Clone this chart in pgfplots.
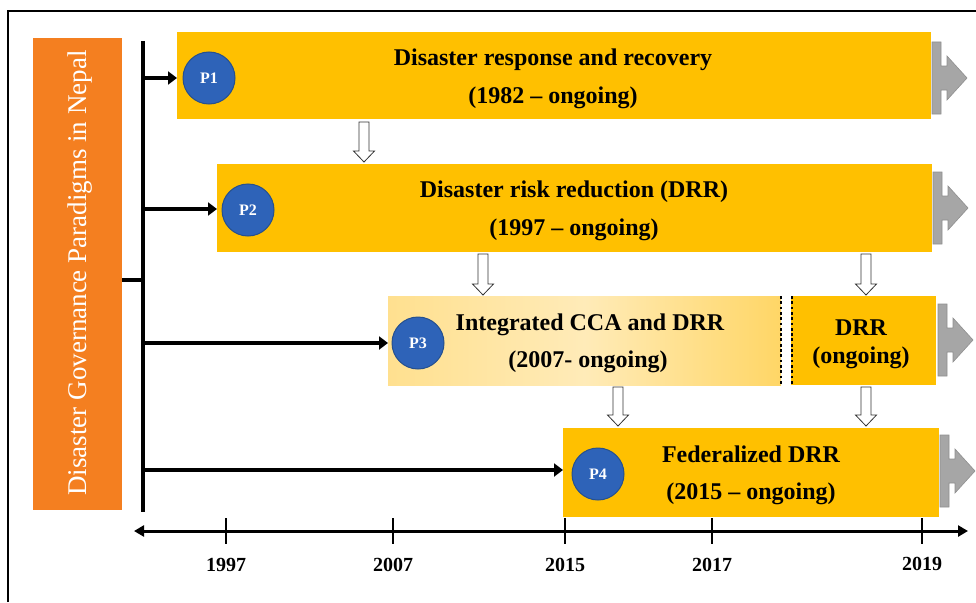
\documentclass[border=0pt]{standalone}
\usepackage{pgfplots}
\pgfplotsset{compat=1.18}
\usepackage{fontspec}
\setmainfont{Liberation Serif}
\usetikzlibrary{arrows.meta}
\definecolor{gold}{HTML}{FFC000}
\definecolor{orangeB}{HTML}{F47F20}
\definecolor{blueC}{HTML}{2E63B8}
\definecolor{blueD}{HTML}{25508F}
\definecolor{grayA}{HTML}{A6A6A6}
\definecolor{grayB}{HTML}{8F8F8F}
\definecolor{p3L}{HTML}{FFE08F}
\definecolor{p3M}{HTML}{FFEBB8}
\definecolor{p3R}{HTML}{FFD666}
\newcommand{\tf}{\fontsize{24}{28}\selectfont\bfseries}
\newcommand{\yf}{\fontsize{20}{24}\selectfont\bfseries}
\newcommand{\pf}{\fontsize{16}{18}\selectfont\bfseries}
\begin{document}
\begin{tikzpicture}
\begin{axis}[
  width=976pt, height=602pt, scale only axis,
  xmin=0, xmax=976, ymin=0, ymax=602, y dir=reverse,
  hide axis, clip=false,
]
% frame
\addplot[black, line width=1.5pt] coordinates {(8,602) (8,11) (976,11)};
% orange box
\addplot[fill=orangeB, draw=none] coordinates {(33,38) (122,38) (122,510) (33,510)} -- cycle;
\node[rotate=90, anchor=base, text=white, font=\fontsize{27}{30}\selectfont] at (axis cs:86,273) {Disaster Governance Paradigms in Nepal};
% boxes
\addplot[fill=gold, draw=none] coordinates {(177,32) (931,32) (931,119) (177,119)} -- cycle;
\addplot[fill=gold, draw=none] coordinates {(217,164) (932,164) (932,252) (217,252)} -- cycle;
\addplot[left color=p3L, right color=p3R, middle color=p3M, draw=none] coordinates {(388,296) (781,296) (781,385) (388,385)} -- cycle;
\addplot[fill=gold, draw=none] coordinates {(791,296) (936,296) (936,385) (791,385)} -- cycle;
\addplot[fill=gold, draw=none] coordinates {(563,428) (939,428) (939,517) (563,517)} -- cycle;
% dotted separators
\addplot[black, line width=2.8pt, dash pattern=on 2.8pt off 2.5pt] coordinates {(781,296) (781,385)};
\addplot[black, line width=2.8pt, dash pattern=on 2.8pt off 2.5pt] coordinates {(792,296) (792,385)};
% gray arrows
\addplot[fill=grayA, draw=grayB, line width=0.6pt] coordinates {(932,42) (941,42) (941,66) (947,66) (947,56) (967,78) (947,100) (947,90) (941,90) (941,114) (932,114)} -- cycle;
\addplot[fill=grayA, draw=grayB, line width=0.6pt] coordinates {(933,172) (942,172) (942,196) (948,196) (948,186) (968,208) (948,230) (948,220) (942,220) (942,244) (933,244)} -- cycle;
\addplot[fill=grayA, draw=grayB, line width=0.6pt] coordinates {(938,304) (947,304) (947,328) (953,328) (953,318) (973,340) (953,362) (953,352) (947,352) (947,376) (938,376)} -- cycle;
\addplot[fill=grayA, draw=grayB, line width=0.6pt] coordinates {(940,435) (949,435) (949,459) (955,459) (955,449) (975,471) (955,493) (955,483) (949,483) (949,507) (940,507)} -- cycle;
% hollow down arrows
\addplot[fill=white, draw=black!80, line width=0.8pt] coordinates {(359,122) (369,122) (369,151) (374.5,151) (364,162) (353.5,151) (359,151)} -- cycle;
\addplot[fill=white, draw=black!80, line width=0.8pt] coordinates {(478,254) (488,254) (488,284) (493.5,284) (483,295) (472.5,284) (478,284)} -- cycle;
\addplot[fill=white, draw=black!80, line width=0.8pt] coordinates {(861,254) (871,254) (871,284) (876.5,284) (866,295) (855.5,284) (861,284)} -- cycle;
\addplot[fill=white, draw=black!80, line width=0.8pt] coordinates {(613,387) (623,387) (623,415) (628.5,415) (618,426) (607.5,415) (613,415)} -- cycle;
\addplot[fill=white, draw=black!80, line width=0.8pt] coordinates {(861,387) (871,387) (871,415) (876.5,415) (866,426) (855.5,415) (861,415)} -- cycle;
% connectors
\addplot[black, line width=4pt] coordinates {(143,41) (143,512)};
\addplot[black, line width=3.5pt] coordinates {(122,280) (143,280)};
\addplot[black, line width=4pt, -{Triangle[length=9pt,width=13pt]}] coordinates {(141,78) (177,78)};
\addplot[black, line width=4pt, -{Triangle[length=9pt,width=13pt]}] coordinates {(141,209) (217,209)};
\addplot[black, line width=4pt, -{Triangle[length=9pt,width=13pt]}] coordinates {(141,343) (388,343)};
\addplot[black, line width=4pt, -{Triangle[length=9pt,width=13pt]}] coordinates {(141,470) (563,470)};
% circles with labels
\addplot[only marks, mark=*, mark size=26pt, mark options={fill=blueC, draw=blueD, line width=1pt},
  nodes near coords, point meta=explicit symbolic,
  nodes near coords style={anchor=center, text=white, font=\pf}]
  coordinates {(209,78) [P1] (248,210) [P2] (418,343) [P3] (598,474) [P4]};
% box texts
\node[anchor=base, font=\tf] at (axis cs:553,65) {Disaster response and recovery};
\node[anchor=base, font=\tf] at (axis cs:553,103) {(1982 -- ongoing)};
\node[anchor=base, font=\tf] at (axis cs:574,197) {Disaster risk reduction (DRR)};
\node[anchor=base, font=\tf] at (axis cs:574,235) {(1997 -- ongoing)};
\node[anchor=base, font=\tf] at (axis cs:590,330) {Integrated CCA and DRR};
\node[anchor=base, font=\tf] at (axis cs:588,367) {(2007- ongoing)};
\node[anchor=base, font=\tf] at (axis cs:861,335) {DRR};
\node[anchor=base, font=\tf] at (axis cs:861,363) {(ongoing)};
\node[anchor=base, font=\tf] at (axis cs:751,462) {Federalized DRR};
\node[anchor=base, font=\tf] at (axis cs:751,499) {(2015 -- ongoing)};
% timeline
\addplot[black, line width=3pt, {Triangle[length=10pt,width=11pt]}-{Triangle[length=10pt,width=11pt]}] coordinates {(134,531) (968,531)};
\addplot[black, line width=2.5pt] coordinates {(226,518) (226,544)};
\addplot[black, line width=2.5pt] coordinates {(393,518) (393,544)};
\addplot[black, line width=2.5pt] coordinates {(565,518) (565,544)};
\addplot[black, line width=2.5pt] coordinates {(712,518) (712,544)};
\addplot[black, line width=2.5pt] coordinates {(922,518) (922,544)};
\node[anchor=base, font=\yf] at (axis cs:226,571) {1997};
\node[anchor=base, font=\yf] at (axis cs:393,571) {2007};
\node[anchor=base, font=\yf] at (axis cs:565,571) {2015};
\node[anchor=base, font=\yf] at (axis cs:712,571) {2017};
\node[anchor=base, font=\yf] at (axis cs:922,570) {2019};
\end{axis}
\pgfresetboundingbox
\path[use as bounding box] (current axis.south west) rectangle (current axis.north east);
\end{tikzpicture}
\end{document}
